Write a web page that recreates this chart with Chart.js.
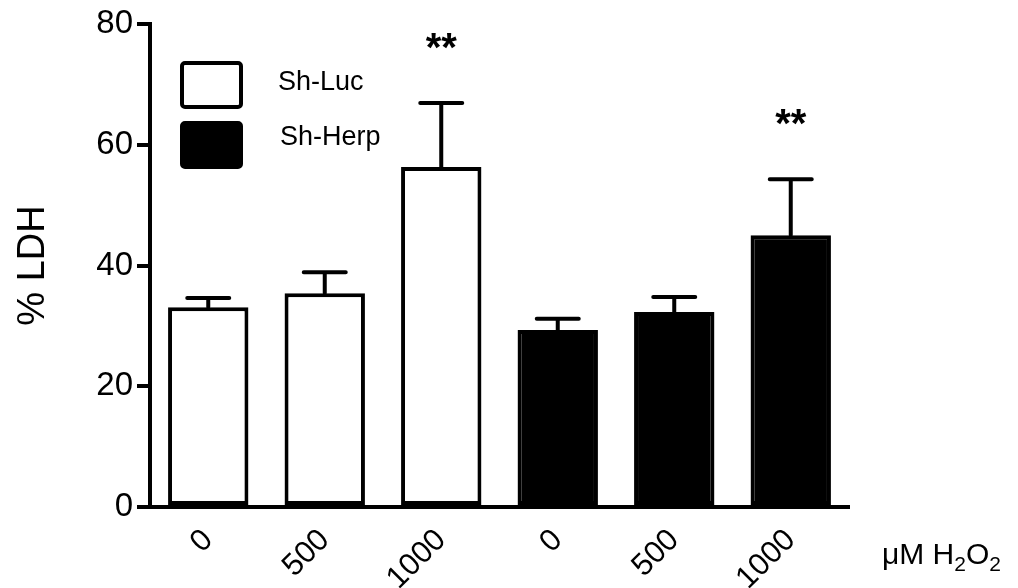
<!DOCTYPE html>
<html>
<head>
<meta charset="utf-8">
<script src="https://cdn.jsdelivr.net/npm/chart.js@4.4.1/dist/chart.umd.min.js"></script>
<style>
    html, body { margin: 0; padding: 0; background: #fff; }
    #wrap { width: 1018px; height: 588px; position: relative; }
</style>
</head>
<body>
<div id="wrap"><canvas id="ldhChart"></canvas></div>
<script>
// Data
const categories = ['0', '500', '1000', '0', '500', '1000'];
const shLuc = [33.1, 35.4, 56.3, null, null, null];
const shHerp = [null, null, null, 29.3, 32.3, 45.0];
const shLucErr = [1.5, 3.5, 10.6, null, null, null];
const shHerpErr = [null, null, null, 1.9, 2.5, 9.3];
const stars = ['', '', '**', '', '', '**'];
const yTicks = [0, 20, 40, 60, 80];

const FONT = "'Liberation Sans', Arial, sans-serif";

// Error bars (upper only) drawn from the bar tops
const errorBars = {
    id: 'errorBars',
    afterDatasetsDraw(chart) {
        const ctx = chart.ctx;
        const y = chart.scales.y;
        const errs = [shLucErr, shHerpErr];
        ctx.save();
        ctx.strokeStyle = '#000';
        ctx.lineWidth = 4;
        ctx.lineCap = 'round';
        chart.data.datasets.forEach((ds, di) => {
            const meta = chart.getDatasetMeta(di);
            meta.data.forEach((bar, i) => {
                const v = ds.data[i];
                const e = errs[di][i];
                if (v == null || e == null) return;
                const top = y.getPixelForValue(v + e);
                ctx.beginPath();
                ctx.moveTo(bar.x, bar.y);
                ctx.lineTo(bar.x, top);
                ctx.moveTo(bar.x - 21, top);
                ctx.lineTo(bar.x + 21, top);
                ctx.stroke();
                if (stars[i]) {
                    ctx.fillStyle = '#000';
                    ctx.font = 'bold 40px ' + FONT;
                    ctx.textAlign = 'center';
                    ctx.textBaseline = 'middle';
                    ctx.fillText(stars[i], bar.x, top - 53);
                }
            });
        });
        ctx.restore();
    }
};

// Legend boxes inside the plot, plus the unit label at bottom right
const extras = {
    id: 'extras',
    afterDraw(chart) {
        const ctx = chart.ctx;
        const area = chart.chartArea;
        ctx.save();
        chart.data.datasets.forEach((ds, i) => {
            const bx = area.left + 32;
            const by = area.top + 39 + i * 60;
            ctx.beginPath();
            ctx.roundRect(bx, by, 59, 44, 3);
            ctx.fillStyle = ds.backgroundColor;
            ctx.fill();
            ctx.lineWidth = 4;
            ctx.strokeStyle = '#000';
            ctx.stroke();
            ctx.fillStyle = '#000';
            ctx.font = '27px ' + FONT;
            ctx.textAlign = 'left';
            ctx.textBaseline = 'middle';
            ctx.fillText(ds.label, area.left + 128 + i * 2, by + 20 - i * 5);
        });

        // µM H2O2 with subscripts
        let x = 882;
        const base = 564;
        const parts = [['\u03bcM H', 30, 0], ['2', 21, 7], ['O', 30, 0], ['2', 21, 7]];
        ctx.textAlign = 'left';
        ctx.textBaseline = 'alphabetic';
        parts.forEach(([t, size, dy]) => {
            ctx.font = size + 'px ' + FONT;
            ctx.fillText(t, x, base + dy);
            x += ctx.measureText(t).width;
        });
        ctx.restore();
    }
};

new Chart(document.getElementById('ldhChart'), {
    type: 'bar',
    data: {
        labels: categories,
        datasets: [{
            label: 'Sh-Luc',
            data: shLuc,
            backgroundColor: '#ffffff',
            borderColor: '#000000',
            borderWidth: 4,
            borderSkipped: false
        }, {
            label: 'Sh-Herp',
            data: shHerp,
            backgroundColor: '#000000',
            borderColor: '#000000',
            borderWidth: 4,
            borderSkipped: false
        }]
    },
    options: {
        responsive: true,
        maintainAspectRatio: false,
        animation: false,
        layout: {
            padding: { top: 24, right: 169, bottom: 0, left: 0 }
        },
        datasets: {
            bar: {
                grouped: false,
                categoryPercentage: 1,
                barPercentage: 0.69
            }
        },
        plugins: {
            legend: { display: false },
            tooltip: { enabled: false }
        },
        scales: {
            x: {
                grid: { display: false },
                border: { display: true, color: '#000', width: 4 },
                ticks: {
                    color: '#000',
                    font: { family: FONT, size: 31 },
                    maxRotation: 45,
                    minRotation: 45,
                    padding: 7
                },
                afterFit(scale) { scale.height = 81; }
            },
            y: {
                min: 0,
                max: 80,
                afterBuildTicks(scale) {
                    scale.ticks = yTicks.map(v => ({ value: v }));
                },
                grid: {
                    drawOnChartArea: false,
                    drawTicks: true,
                    tickLength: 13,
                    lineWidth: 4,
                    color: '#000'
                },
                border: { display: true, color: '#000', width: 4 },
                ticks: {
                    color: '#000',
                    font: { family: FONT, size: 33 },
                    padding: 4
                },
                title: {
                    display: true,
                    text: '% LDH',
                    color: '#000',
                    font: { family: FONT, size: 38 },
                    padding: { top: 11, bottom: 0 }
                },
                afterFit(scale) { scale.width = 150; }
            }
        }
    },
    plugins: [errorBars, extras]
});
</script>
</body>
</html>
